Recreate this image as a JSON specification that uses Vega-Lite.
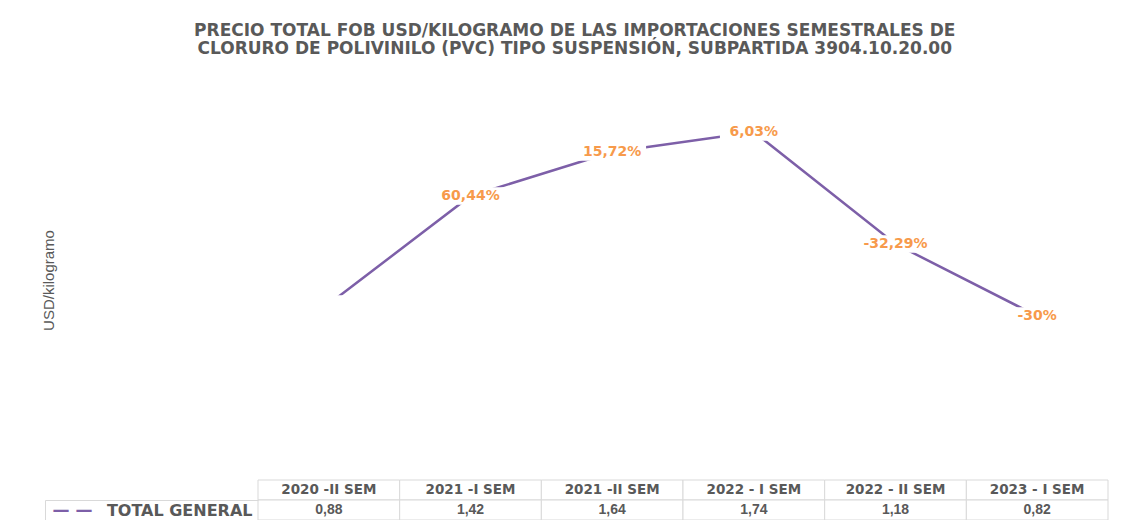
{
  "$schema": "https://vega.github.io/schema/vega-lite/v6.json",
  "background": "white",
  "padding": {"left": 41, "top": 22, "right": 5, "bottom": 0},
  "bounds": "flush",
  "config": {
    "view": {"stroke": null},
    "locale": {"number": {"decimal": ",", "thousands": ".", "grouping": [3], "currency": ["$", ""]}}
  },
  "title": {
    "text": ["PRECIO TOTAL FOB USD/KILOGRAMO DE LAS IMPORTACIONES SEMESTRALES DE", "CLORURO DE POLIVINILO (PVC) TIPO SUSPENSIÓN, SUBPARTIDA 3904.10.20.00"],
    "font": "DejaVu Sans",
    "fontSize": 17,
    "fontWeight": "bold",
    "color": "#595959",
    "lineHeight": 18,
    "anchor": "middle",
    "offset": 22
  },
  "datasets": {
    "tabla": [
      {"semestre": "2020 -II SEM", "precio": 0.88, "variacion": "", "serie": "TOTAL GENERAL"},
      {"semestre": "2021 -I SEM", "precio": 1.42, "variacion": "60,44%", "serie": "TOTAL GENERAL"},
      {"semestre": "2021 -II SEM", "precio": 1.64, "variacion": "15,72%", "serie": "TOTAL GENERAL"},
      {"semestre": "2022 - I SEM", "precio": 1.74, "variacion": "6,03%", "serie": "TOTAL GENERAL"},
      {"semestre": "2022 - II SEM", "precio": 1.18, "variacion": "-32,29%", "serie": "TOTAL GENERAL"},
      {"semestre": "2023 - I SEM", "precio": 0.82, "variacion": "-30%", "serie": "TOTAL GENERAL"}
    ]
  },
  "spacing": 0,
  "resolve": {"scale": {"x": "independent", "y": "independent"}},
  "vconcat": [
    {
      "width": 850,
      "height": 400,
      "data": {"name": "tabla"},
      "encoding": {
        "x": {"field": "semestre", "type": "ordinal", "sort": null, "scale": {"type": "point", "padding": 0.5}, "axis": null},
        "y": {
          "field": "precio", "type": "quantitative",
          "scale": {"domain": [0, 2], "nice": false, "zero": true},
          "axis": {
            "title": "USD/kilogramo", "labels": false, "ticks": false, "domain": false, "grid": false,
            "titlePadding": 202, "titleFont": "Liberation Sans", "titleFontSize": 15, "titleFontWeight": "normal", "titleColor": "#595959"
          }
        }
      },
      "layer": [
        {"mark": {"type": "line", "color": "#7D5FA8", "strokeWidth": 2.5}},
        {"mark": {"type": "point", "shape": "M-1,-0.26H1V0.26H-1Z", "filled": true, "color": "white", "opacity": 1, "strokeWidth": 0, "size": 4600}},
        {"mark": {"type": "text", "font": "DejaVu Sans", "fontSize": 14, "fontWeight": "bold", "color": "#F79A4B", "align": "center", "baseline": "middle"},
         "encoding": {"text": {"field": "variacion"}}}
      ]
    },
    {
      "width": 850,
      "height": 20,
      "data": {"name": "tabla"},
      "encoding": {
        "x": {"field": "semestre", "type": "nominal", "sort": null, "scale": {"type": "band", "paddingInner": 0, "paddingOuter": 0}, "axis": null}
      },
      "layer": [
        {"mark": {"type": "rect", "fill": "white", "stroke": "#D9D9D9", "strokeWidth": 1}},
        {"mark": {"type": "text", "font": "DejaVu Sans", "fontSize": 13.5, "fontWeight": "bold", "color": "#595959", "align": "center", "baseline": "middle"},
         "encoding": {"text": {"field": "semestre"}}}
      ]
    },
    {
      "width": 850,
      "height": 20,
      "data": {"name": "tabla"},
      "encoding": {
        "x": {"field": "semestre", "type": "nominal", "sort": null, "scale": {"type": "band", "paddingInner": 0, "paddingOuter": 0}, "axis": null},
        "y": {
          "field": "serie", "type": "nominal",
          "scale": {"type": "band", "paddingInner": 0, "paddingOuter": 0},
          "axis": {
            "title": "— —", "titleAngle": 0, "titleAlign": "left", "titleBaseline": "middle", "titleX": 7, "titleY": 10,
            "titleColor": "#7D5FA8", "titleFont": "DejaVu Sans", "titleFontSize": 17, "titleFontWeight": "bold",
            "offset": 213, "tickBand": "extent", "tickSize": -213, "tickColor": "#D9D9D9", "tickWidth": 1,
            "domain": true, "domainColor": "#D9D9D9", "domainWidth": 1,
            "labelPadding": 6, "labelFont": "DejaVu Sans", "labelFontSize": 16, "labelFontWeight": "bold", "labelColor": "#595959"
          }
        }
      },
      "layer": [
        {"mark": {"type": "rect", "fill": "white", "stroke": "#D9D9D9", "strokeWidth": 1}},
        {"mark": {"type": "text", "font": "Liberation Sans", "fontSize": 14, "fontWeight": "bold", "color": "#595959", "align": "center", "baseline": "middle"},
         "encoding": {"text": {"field": "precio", "type": "quantitative", "format": ".2f"}}}
      ]
    }
  ]
}
